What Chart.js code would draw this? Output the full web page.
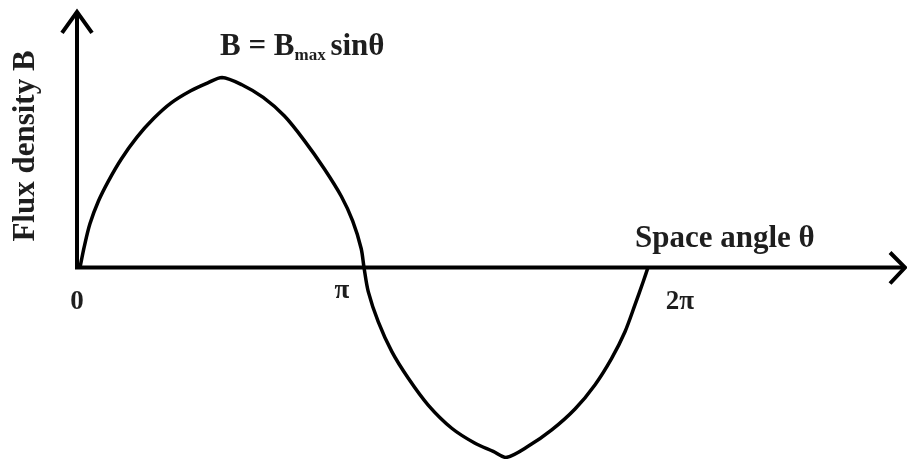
<!DOCTYPE html>
<html>
<head>
<meta charset="utf-8">
<script src="https://cdn.jsdelivr.net/npm/chart.js@4.4.1/dist/chart.umd.min.js"></script>
<style>
  html, body { margin: 0; padding: 0; background: #fff; }
  #wrap { width: 907px; height: 459px; position: relative; }
</style>
</head>
<body>
<div id="wrap"><canvas id="fluxChart"></canvas></div>
<script>
(function () {
  'use strict';

  // angle in multiples of pi, flux density as a fraction of Bmax
  var thetaPi = [0, 0.015, 0.035, 0.065, 0.10, 0.145, 0.20, 0.26, 0.32, 0.39, 0.45, 0.5,
    0.57, 0.645, 0.72, 0.79, 0.86, 0.92, 0.96, 0.99, 1.0,
    1.015, 1.05, 1.098, 1.156, 1.226, 1.309, 1.391, 1.455, 1.5,
    1.579, 1.661, 1.743, 1.813, 1.872, 1.919, 1.954, 1.983, 2.0];
  var fluxB = [0, 0.11, 0.23, 0.35, 0.455, 0.57, 0.685, 0.785, 0.865, 0.93, 0.972, 1.0,
    0.962, 0.895, 0.797, 0.668, 0.52, 0.375, 0.245, 0.10, 0,
    -0.127, -0.285, -0.443, -0.583, -0.724, -0.846, -0.925, -0.968, -1.0,
    -0.94, -0.855, -0.745, -0.618, -0.478, -0.338, -0.197, -0.075, 0];

  var tickValues = [0, 1, 2];
  var tickLabels = ['0', 'π', '2π'];
  var xAxisTitle = 'Space angle θ';
  var yAxisTitle = 'Flux density B';
  var formula = ['B = B', 'max', ' sinθ'];

  // how far the arrowed axes run, in data units
  var xAxisEnd = 2.905;
  var yAxisEnd = 1.345;

  var ink = '#000';
  var textInk = '#1e1e1e';
  var font = '"Liberation Serif", "Times New Roman", serif';

  var points = thetaPi.map(function (t, i) { return { x: t, y: fluxB[i] }; });

  var axesPlugin = {
    id: 'arrowAxes',
    afterDatasetsDraw: function (chart) {
      var ctx = chart.ctx;
      var xs = chart.scales.x, ys = chart.scales.y;
      var ox = xs.getPixelForValue(0) - 3;
      var oy = ys.getPixelForValue(0);
      var xEnd = xs.getPixelForValue(xAxisEnd);
      var yEnd = ys.getPixelForValue(yAxisEnd);

      ctx.save();
      ctx.strokeStyle = ink;
      ctx.lineWidth = 4;
      ctx.lineJoin = 'miter';

      // axis lines
      ctx.beginPath();
      ctx.moveTo(ox, oy + 2);
      ctx.lineTo(ox, yEnd + 2);
      ctx.moveTo(ox - 2, oy);
      ctx.lineTo(xEnd - 2, oy);
      ctx.stroke();

      // open arrow heads
      ctx.beginPath();
      ctx.moveTo(ox - 15, yEnd + 21);
      ctx.lineTo(ox, yEnd);
      ctx.lineTo(ox + 15, yEnd + 21);
      ctx.moveTo(xEnd - 15, oy - 15);
      ctx.lineTo(xEnd, oy);
      ctx.lineTo(xEnd - 15, oy + 16);
      ctx.stroke();

      ctx.fillStyle = textInk;

      // tick labels
      var tickDx = [-3, -22, 32];
      var tickDy = [41, 30, 41];
      ctx.font = 'bold 27px ' + font;
      ctx.textAlign = 'center';
      ctx.textBaseline = 'alphabetic';
      tickValues.forEach(function (v, i) {
        ctx.fillText(tickLabels[i], xs.getPixelForValue(v) + tickDx[i], oy + tickDy[i]);
      });

      // axis titles
      ctx.font = 'bold 31px ' + font;
      ctx.textAlign = 'left';
      ctx.fillText(xAxisTitle, 635, oy - 21);

      ctx.save();
      ctx.translate(34, 146);
      ctx.rotate(-Math.PI / 2);
      ctx.textAlign = 'center';
      ctx.fillText(yAxisTitle, 0, 0);
      ctx.restore();

      // formula with subscript
      var fx = 220, fy = 55;
      ctx.textAlign = 'left';
      ctx.font = 'bold 31px ' + font;
      ctx.fillText(formula[0], fx, fy);
      fx += ctx.measureText(formula[0]).width;
      ctx.font = 'bold 17px ' + font;
      ctx.fillText(formula[1], fx, fy + 5);
      fx += ctx.measureText(formula[1]).width;
      ctx.font = 'bold 31px ' + font;
      ctx.fillText(formula[2], fx - 3, fy);
      ctx.restore();
    }
  };

  new Chart(document.getElementById('fluxChart'), {
    type: 'line',
    data: {
      datasets: [{
        data: points,
        borderColor: ink,
        borderWidth: 3.5,
        pointRadius: 0,
        tension: 0.3,
        fill: false,
        clip: false
      }]
    },
    options: {
      responsive: true,
      maintainAspectRatio: false,
      animation: false,
      layout: { padding: { left: 80, right: 259, top: 77.5, bottom: 1.5 } },
      plugins: {
        legend: { display: false },
        tooltip: { enabled: false }
      },
      scales: {
        x: { type: 'linear', min: 0, max: 2, display: false },
        y: { type: 'linear', min: -1, max: 1, display: false }
      }
    },
    plugins: [axesPlugin]
  });
})();
</script>
</body>
</html>
